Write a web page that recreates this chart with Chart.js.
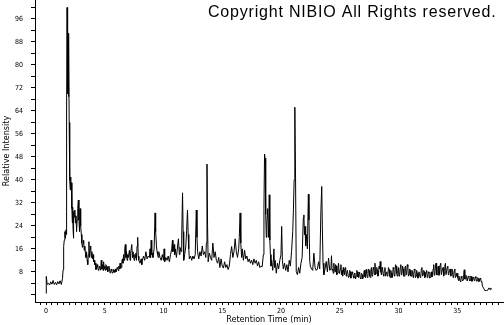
<!DOCTYPE html>
<html>
<head>
<meta charset="utf-8">
<script src="https://cdn.jsdelivr.net/npm/chart.js@4.4.0/dist/chart.umd.min.js"></script>
<style>
    html, body { margin: 0; padding: 0; background: #fff; }
</style>
</head>
<body>
<canvas id="myChart" width="504" height="325"></canvas>
<script>
// retention time (min) and relative intensity
var retentionTime = [
    0, 0.02, 0.1, 0.2, 0.3, 0.4, 0.5, 0.6, 0.7, 0.8,
    0.9, 1.0, 1.1, 1.2, 1.3, 1.4, 1.45, 1.5, 1.55, 1.6,
    1.65, 1.7, 1.74, 1.76, 1.79, 1.82, 1.85, 1.88, 1.91, 1.94,
    1.97, 2.0, 2.03, 2.06, 2.09, 2.12, 2.15, 2.2, 2.24, 2.27,
    2.3, 2.33, 2.36, 2.4, 2.45, 2.5, 2.55, 2.6, 2.65, 2.7,
    2.75, 2.8, 2.85, 2.9, 2.95, 3.0, 3.05, 3.1, 3.15, 3.2,
    3.25, 3.3, 3.35, 3.4, 3.45, 3.5, 3.55, 3.6, 3.65, 3.7,
    3.75, 3.8, 3.85, 3.9, 3.95, 4.0, 4.05, 4.1, 4.15, 4.2,
    4.25, 4.3, 4.35, 4.4, 4.45, 4.5, 4.55, 4.6, 4.65, 4.7,
    4.75, 4.8, 4.85, 4.9, 4.95, 5.0, 5.05, 5.1, 5.15, 5.2,
    5.25, 5.3, 5.35, 5.4, 5.45, 5.5, 5.55, 5.6, 5.65, 5.7,
    5.75, 5.8, 5.85, 5.9, 5.95, 6.0, 6.05, 6.1, 6.15, 6.2,
    6.25, 6.3, 6.35, 6.4, 6.45, 6.5, 6.55, 6.6, 6.65, 6.7,
    6.75, 6.8, 6.85, 6.9, 6.95, 7.0, 7.1, 7.15, 7.2, 7.3,
    7.35, 7.4, 7.5, 7.55, 7.6, 7.65, 7.7, 7.75, 7.8, 7.85,
    7.9, 8.0, 8.1, 8.15, 8.2, 8.3, 8.4, 8.5, 8.6, 8.7,
    8.8, 8.85, 8.9, 8.95, 9.0, 9.05, 9.1, 9.2, 9.28, 9.33,
    9.4, 9.45, 9.5, 9.55, 9.6, 9.7, 9.8, 9.9, 10.0, 10.05,
    10.1, 10.2, 10.3, 10.4, 10.5, 10.6, 10.7, 10.76, 10.8, 10.9,
    10.95, 11.0, 11.1, 11.2, 11.27, 11.35, 11.4, 11.5, 11.55, 11.62,
    11.67, 11.72, 11.8, 11.9, 11.97, 12.04, 12.1, 12.15, 12.2, 12.3,
    12.4, 12.5, 12.6, 12.7, 12.79, 12.85, 12.9, 13.0, 13.1, 13.2,
    13.3, 13.4, 13.5, 13.6, 13.65, 13.7, 13.75, 13.8, 13.9, 14.0,
    14.1, 14.2, 14.3, 14.4, 14.5, 14.6, 14.7, 14.8, 14.9, 15.0,
    15.1, 15.2, 15.3, 15.4, 15.5, 15.6, 15.7, 15.8, 15.9, 16.0,
    16.1, 16.2, 16.3, 16.4, 16.45, 16.52, 16.58, 16.65, 16.7, 16.8,
    16.9, 17.0, 17.1, 17.2, 17.3, 17.4, 17.5, 17.6, 17.7, 17.8,
    17.9, 18.0, 18.1, 18.2, 18.3, 18.4, 18.5, 18.55, 18.6, 18.65,
    18.7, 18.75, 18.8, 18.87, 18.95, 19.0, 19.05, 19.1, 19.15, 19.2,
    19.3, 19.4, 19.45, 19.5, 19.6, 19.7, 19.8, 19.9, 20.0, 20.06,
    20.12, 20.2, 20.3, 20.4, 20.5, 20.6, 20.7, 20.8, 20.9, 21.0,
    21.06, 21.12, 21.18, 21.24, 21.3, 21.4, 21.5, 21.6, 21.7, 21.8,
    21.9, 21.95, 22.0, 22.05, 22.1, 22.15, 22.25, 22.33, 22.38, 22.45,
    22.5, 22.6, 22.7, 22.8, 22.9, 23.0, 23.1, 23.2, 23.3, 23.4,
    23.47, 23.52, 23.58, 23.65, 23.75, 23.85, 23.95, 24.05, 24.15, 24.25,
    24.3, 24.35, 24.4, 24.45, 24.5, 24.55, 24.6, 24.65, 24.7, 24.75,
    24.8, 24.85, 24.9, 24.95, 25.0, 25.05, 25.1, 25.15, 25.2, 25.25,
    25.3, 25.35, 25.4, 25.45, 25.5, 25.55, 25.6, 25.65, 25.7, 25.75,
    25.8, 25.85, 25.9, 25.95, 26.0, 26.05, 26.1, 26.15, 26.2, 26.25,
    26.3, 26.35, 26.4, 26.45, 26.5, 26.55, 26.6, 26.65, 26.7, 26.75,
    26.8, 26.85, 26.9, 26.95, 27.0, 27.05, 27.1, 27.15, 27.2, 27.25,
    27.3, 27.35, 27.4, 27.45, 27.5, 27.55, 27.6, 27.65, 27.7, 27.75,
    27.8, 27.85, 27.9, 27.95, 28.0, 28.05, 28.1, 28.15, 28.2, 28.25,
    28.3, 28.35, 28.4, 28.45, 28.5, 28.55, 28.6, 28.65, 28.7, 28.75,
    28.8, 28.85, 28.9, 28.95, 29.0, 29.05, 29.1, 29.15, 29.2, 29.25,
    29.3, 29.35, 29.4, 29.45, 29.5, 29.55, 29.6, 29.65, 29.7, 29.75,
    29.8, 29.85, 29.9, 29.95, 30.0, 30.05, 30.1, 30.15, 30.2, 30.25,
    30.3, 30.35, 30.4, 30.45, 30.5, 30.55, 30.6, 30.65, 30.7, 30.75,
    30.8, 30.85, 30.9, 30.95, 31.0, 31.05, 31.1, 31.15, 31.2, 31.25,
    31.3, 31.35, 31.4, 31.45, 31.5, 31.55, 31.6, 31.65, 31.7, 31.75,
    31.8, 31.85, 31.9, 31.95, 32.0, 32.05, 32.1, 32.15, 32.2, 32.25,
    32.3, 32.35, 32.4, 32.45, 32.5, 32.55, 32.6, 32.65, 32.7, 32.75,
    32.8, 32.85, 32.9, 32.95, 33.0, 33.05, 33.1, 33.15, 33.2, 33.25,
    33.3, 33.35, 33.4, 33.45, 33.5, 33.55, 33.6, 33.65, 33.7, 33.75,
    33.8, 33.85, 33.9, 33.95, 34.0, 34.05, 34.1, 34.15, 34.2, 34.25,
    34.3, 34.35, 34.4, 34.45, 34.5, 34.55, 34.6, 34.65, 34.7, 34.75,
    34.8, 34.85, 34.9, 34.95, 35.0, 35.05, 35.1, 35.15, 35.2, 35.25,
    35.3, 35.35, 35.4, 35.45, 35.5, 35.55, 35.6, 35.65, 35.7, 35.75,
    35.8, 35.85, 35.9, 35.95, 36.0, 36.05, 36.1, 36.15, 36.2, 36.25,
    36.3, 36.35, 36.4, 36.45, 36.5, 36.55, 36.6, 36.65, 36.7, 36.75,
    36.8, 36.85, 36.9, 36.95, 37.0, 37.05, 37.1, 37.15, 37.25, 37.35,
    37.5, 37.6, 37.7, 37.8, 37.85, 37.95
];

var relIntensity = [
    0.5, 6.4, 3.6, 4.0, 3.4, 4.5, 3.7, 5.0, 3.6, 4.3,
    3.5, 4.6, 3.8, 4.9, 3.6, 5.6, 8.7, 16.8, 19, 22,
    19.7, 22.6, 21, 65, 100, 91, 70, 91, 69, 88,
    60, 50, 40, 36.5, 41, 37, 39, 30, 25, 30.5,
    23, 19.7, 29, 27, 29.5, 25, 27.5, 22, 26, 30,
    33, 26, 22, 30, 24, 21, 18, 16.5, 18, 19,
    15.5, 17, 14.5, 13, 15, 12, 10.5, 14, 18.5, 13,
    16, 17, 13, 15, 12.5, 14, 11.5, 12, 10.5, 11,
    8.8, 9.3, 10.5, 9.6, 8.5, 8.8, 10, 9.2, 8.6, 12,
    9, 10.5, 8.5, 11.5, 9, 10, 8.5, 10.5, 8.8, 9.8,
    8, 8.5, 10, 9, 7.6, 7.8, 9, 8.3, 7.5, 7.9,
    8.8, 8.5, 7.8, 9, 8, 8.5, 9.5, 9.2, 8.4, 10,
    9, 11, 9.2, 9.5, 11.5, 12.5, 11, 14, 12, 16,
    17.5, 13, 15, 12, 14, 13, 15.5, 12, 14.5, 17.5,
    13, 15, 12, 14, 13, 14.5, 12, 17, 20, 13.5,
    12, 11, 12.5, 10.5, 12, 13.5, 12, 15, 12.5, 13.5,
    13, 16, 13, 19, 14, 14.5, 13, 16, 28.5, 22,
    17, 15, 14, 13, 15, 13, 12, 14, 12, 16,
    11.5, 13, 12, 13.5, 11.5, 14, 16, 19, 15, 17.5,
    14, 16, 13, 17, 19.5, 14, 16.5, 15, 20.5, 35.5,
    22, 12, 14, 17, 22.5, 29.5, 21, 16, 12.5, 13.5,
    12, 13.5, 12.5, 14, 29.5, 20, 15, 12.5, 15, 13.5,
    17, 14, 15, 13, 18, 45.5, 24, 11.5, 14.5, 13,
    12, 18, 13, 15, 12, 11, 13, 9.5, 12.5, 10,
    9.3, 11.5, 9.5, 10.5, 8.8, 10, 14, 16.8, 13, 15,
    19.5, 15, 13, 16, 20, 28.5, 18, 13, 16, 12,
    15.5, 12.5, 13.5, 11.5, 12.5, 11, 12, 10.5, 12.5, 11,
    12, 10, 11.5, 9.5, 10, 9.8, 14, 30, 49, 47.5,
    28, 20, 25, 30, 20, 34.8, 19, 14, 10, 12,
    8.5, 16, 9.5, 12, 7.5, 11, 9, 12, 14, 23.8,
    12, 9, 11, 8.5, 10.5, 8, 12, 10, 15, 22,
    29.6, 40, 65.3, 40.6, 8.1, 7, 9.5, 7.5, 11, 13,
    26.7, 27.8, 20.9, 23.8, 17, 21, 16, 35, 26, 11.6,
    10, 9, 8.5, 14.5, 9.5, 8.5, 9, 11.5, 9, 29.6,
    37.7, 24, 11, 7, 9, 11.6, 8, 12.8, 8.5, 9,
    13.6, 8.5, 9, 7.5, 11, 8.5, 8, 10.5, 10, 7,
    7.5, 9.5, 11, 7.5, 8, 9, 10.5, 7, 8.5, 6.5,
    9.5, 8, 7, 9, 9.5, 6.5, 7.5, 8.5, 8.5, 6,
    6.5, 8.5, 8, 5.8, 6.8, 8, 7.5, 6.5, 5.8, 7.5,
    7.2, 5.5, 6.5, 8.5, 8, 6.2, 6, 7.8, 7.2, 5.8,
    5.5, 7.5, 7, 5.6, 6.2, 7.8, 8.5, 6.2, 6, 8.8,
    7.5, 6, 6.5, 9, 8.5, 6.5, 6, 8.5, 9.5, 6.5,
    7, 9.5, 9, 7, 11, 7, 7.5, 9.5, 8.5, 6.5,
    7, 10, 9, 11.6, 8, 7, 9.5, 9, 7, 6.5,
    8.5, 9.5, 6.5, 7.5, 8, 6.5, 7, 9.5, 8.8, 6.5,
    6, 8.5, 7.5, 6, 6.5, 9.5, 9, 6.5, 7, 10.5,
    10, 7.5, 6.5, 8.5, 9.5, 6.5, 7, 9.5, 10.5, 7,
    7.5, 10, 9, 6.5, 6.5, 9.5, 10, 7, 7.5, 10.5,
    9.8, 6.5, 7, 9, 8.5, 6.5, 6.5, 8.5, 8, 6,
    7, 9, 8.5, 6, 6.5, 8.5, 7.5, 5.8, 6, 8,
    8, 6, 6.5, 9, 9.5, 6.5, 7, 8.5, 8, 6,
    6.5, 8, 8.5, 6, 6.5, 8, 7.5, 5.8, 6, 7.5,
    8, 6.2, 6.8, 9, 10.5, 6.8, 7, 10, 11, 7,
    7, 9.5, 10, 6.8, 7.5, 10.5, 11, 7, 7, 9,
    9.5, 6.5, 7.5, 10, 11, 7, 7, 9.5, 10, 7,
    7.5, 8.5, 9, 6.5, 7, 9, 8.5, 6, 6.5, 8.5,
    9, 6, 6.5, 7.5, 7.5, 6, 5, 6.5, 5.5, 4.8,
    4.6, 6.5, 6, 4.8, 5.2, 7, 8.7, 5.5, 5.5, 6.8,
    6.4, 4.8, 4.8, 6.5, 6.2, 4.8, 5, 6.5, 6.4, 4.7,
    4.8, 6.2, 6, 4.9, 5.3, 6.3, 5.8, 4.7, 4.9, 6,
    5.6, 4.6, 4.8, 5.8, 5.5, 4.5, 4.6, 3, 2.3, 1.5,
    1.5, 1.6, 2.4, 1.8, 2.3, 2.0
];

// axis ticks
var xTickValues = [-0.5, 0, 0.5, 1, 1.5, 2, 2.5, 3, 3.5, 4, 4.5, 5, 5.5, 6, 6.5, 7, 7.5, 8, 8.5, 9, 9.5,
    10, 10.5, 11, 11.5, 12, 12.5, 13, 13.5, 14, 14.5, 15, 15.5, 16, 16.5, 17, 17.5, 18, 18.5, 19, 19.5,
    20, 20.5, 21, 21.5, 22, 22.5, 23, 23.5, 24, 24.5, 25, 25.5, 26, 26.5, 27, 27.5, 28, 28.5, 29, 29.5,
    30, 30.5, 31, 31.5, 32, 32.5, 33, 33.5, 34, 34.5, 35, 35.5, 36, 36.5, 37, 37.5, 38, 38.5];
var xLabelValues = [0, 5, 10, 15, 20, 25, 30, 35];
var yTickValues = [0, 4, 8, 12, 16, 20, 24, 28, 32, 36, 40, 44, 48, 52, 56, 60, 64, 68, 72, 76, 80, 84, 88, 92, 96, 100];
var yLabelValues = [8, 16, 24, 32, 40, 48, 56, 64, 72, 80, 88, 96];

var narrowFamily = "'Liberation Sans Narrow', 'DejaVu Sans Condensed', 'Liberation Sans', Arial, sans-serif";

if (retentionTime.length !== relIntensity.length) {
    console.log('length mismatch', retentionTime.length, relIntensity.length);
}

var points = [];
for (var i = 0; i < retentionTime.length; i++) {
    points.push({x: retentionTime[i], y: relIntensity[i]});
}

// copyright line in the top right corner
var copyrightPlugin = {
    id: 'copyright',
    afterDraw: function (chart) {
        var ctx = chart.ctx;
        ctx.save();
        ctx.font = "16px 'Liberation Sans', Arial, sans-serif";
        ctx.letterSpacing = '0.8px';
        ctx.fillStyle = '#000';
        ctx.textAlign = 'left';
        ctx.textBaseline = 'alphabetic';
        ctx.fillText('Copyright NIBIO All Rights reserved.', 208, 17);
        ctx.restore();
    }
};

var ctx = document.getElementById('myChart').getContext('2d');
var chart = new Chart(ctx, {
    type: 'line',
    data: {
        datasets: [{
            label: 'TIC',
            data: points,
            borderColor: '#000',
            borderWidth: 1,
            pointRadius: 0,
            fill: false,
            tension: 0
        }]
    },
    options: {
        responsive: false,
        animation: false,
        devicePixelRatio: 1,
        layout: {padding: {left: 0, right: 1, top: 0, bottom: 0}},
        plugins: {
            legend: {display: false},
            tooltip: {enabled: false}
        },
        scales: {
            x: {
                type: 'linear',
                min: -0.94,
                max: 38.9,
                afterBuildTicks: function (axis) {
                    axis.ticks = xTickValues.map(function (v) { return {value: v}; });
                },
                afterFit: function (axis) {
                    axis.height = 23;
                    axis.paddingLeft = 0;
                    axis.paddingRight = 0;
                },
                border: {display: true, color: '#000', width: 1},
                grid: {drawOnChartArea: false, drawTicks: true, tickLength: 3, color: '#000'},
                ticks: {
                    autoSkip: false,
                    maxRotation: 0,
                    padding: 2,
                    color: '#000',
                    font: {family: narrowFamily, size: 7},
                    callback: function (v) { return xLabelValues.indexOf(v) >= 0 ? String(v) : ''; }
                },
                title: {
                    display: true,
                    text: 'Retention Time (min)',
                    color: '#000',
                    font: {family: narrowFamily, size: 9},
                    padding: 0
                }
            },
            y: {
                type: 'linear',
                min: -2.5,
                max: 102.6,
                afterBuildTicks: function (axis) {
                    axis.ticks = yTickValues.map(function (v) { return {value: v}; });
                },
                afterFit: function (axis) {
                    axis.width = 35;
                    axis.paddingTop = 0;
                    axis.paddingBottom = 0;
                },
                border: {display: true, color: '#000', width: 1},
                grid: {drawOnChartArea: false, drawTicks: true, tickLength: 4, color: '#000'},
                ticks: {
                    autoSkip: false,
                    padding: 8,
                    color: '#000',
                    font: {family: narrowFamily, size: 7},
                    callback: function (v) { return yLabelValues.indexOf(v) >= 0 ? String(v) : ''; }
                },
                title: {
                    display: true,
                    text: 'Relative Intensity',
                    color: '#000',
                    font: {family: narrowFamily, size: 9},
                    padding: {top: 1, bottom: 0}
                }
            }
        }
    },
    plugins: [copyrightPlugin]
});
</script>
</body>
</html>
